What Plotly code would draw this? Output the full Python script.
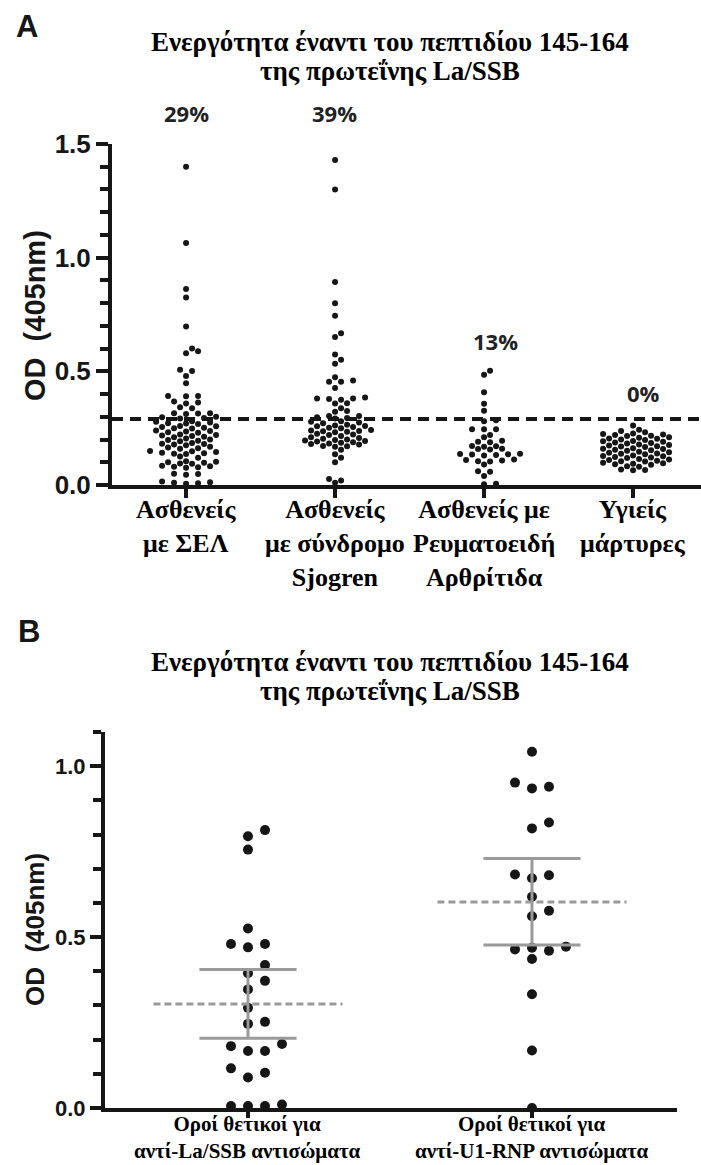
import plotly.graph_objects as go

W, H = 701, 1165

# ---------------- Panel A data ----------------
groups_A = ["Ασθενείς<br>με ΣΕΛ", "Ασθενείς<br>με σύνδρομο<br>Sjogren",
            "Ασθενείς με<br>Ρευματοειδή<br>Αρθρίτιδα", "Υγιείς<br>μάρτυρες"]
pct_A = ["29%", "39%", "13%", "0%"]
cutoff_A = 0.29

sle = [1.40, 1.065, 0.862, 0.825, 0.697, 0.60, 0.588, 0.58, 0.507, 0.502, 0.48, 0.448,
       0.392, 0.392, 0.39, 0.367, 0.363, 0.358, 0.342, 0.338, 0.316, 0.316, 0.314, 0.312,
       0.30, 0.298, 0.295, 0.293,
       0.28, 0.278, 0.275, 0.272, 0.27, 0.268,
       0.26, 0.258, 0.255, 0.252, 0.25, 0.248,
       0.24, 0.238, 0.235, 0.232, 0.23,
       0.222, 0.22, 0.218, 0.215, 0.212, 0.21,
       0.205, 0.20, 0.198, 0.195, 0.192,
       0.185, 0.182, 0.18, 0.178, 0.175,
       0.168, 0.165, 0.162, 0.16,
       0.15, 0.148, 0.145, 0.142, 0.14, 0.138, 0.136,
       0.125, 0.12,
       0.105, 0.102, 0.10, 0.098, 0.095, 0.093,
       0.085, 0.082, 0.08, 0.078, 0.076,
       0.05, 0.048, 0.045,
       0.015, 0.012, 0.01, 0.008, 0.005]
sjogren = [1.43, 1.30, 0.893, 0.80, 0.745, 0.667, 0.651, 0.574, 0.551, 0.533, 0.474, 0.46,
           0.454, 0.454, 0.427, 0.385, 0.38, 0.38, 0.378, 0.375, 0.36, 0.358, 0.338, 0.326,
           0.322, 0.304, 0.304, 0.298, 0.295, 0.293,
           0.28, 0.278, 0.275, 0.272,
           0.265, 0.262, 0.26, 0.258, 0.255, 0.252, 0.25,
           0.242, 0.24, 0.238, 0.236, 0.234, 0.232,
           0.225, 0.222, 0.22,
           0.215, 0.21, 0.207, 0.203, 0.20, 0.198, 0.196, 0.194, 0.191, 0.188, 0.186,
           0.183, 0.18, 0.178,
           0.172, 0.17, 0.168,
           0.155, 0.135, 0.12, 0.10, 0.026, 0.02, 0.01]
ra = [0.503, 0.485, 0.408, 0.357, 0.327, 0.285, 0.28, 0.245, 0.245, 0.245, 0.22, 0.21,
      0.195, 0.19, 0.188, 0.172, 0.17, 0.168, 0.16, 0.158, 0.156, 0.138, 0.136, 0.135,
      0.134, 0.132, 0.13, 0.112, 0.11, 0.108, 0.105, 0.103, 0.09, 0.06, 0.058, 0.04,
      0.005, 0.003]
healthy = [0.262, 0.243, 0.238, 0.232,
           0.226, 0.224, 0.222, 0.22, 0.217, 0.215,
           0.21, 0.208, 0.205, 0.203, 0.2, 0.198,
           0.194, 0.192, 0.19, 0.187, 0.185, 0.183,
           0.178, 0.176, 0.174, 0.171, 0.169, 0.167,
           0.162, 0.16, 0.158, 0.155, 0.153, 0.151,
           0.146, 0.144, 0.142, 0.139, 0.137, 0.135,
           0.13, 0.128, 0.126, 0.123, 0.121, 0.119,
           0.114, 0.112, 0.11, 0.107, 0.105, 0.103,
           0.098, 0.096, 0.094, 0.091, 0.089,
           0.082, 0.08, 0.068, 0.066, 0.065]
values_A = [sle, sjogren, ra, healthy]

# ---------------- Panel B data ----------------
groups_B = ["Οροί θετικοί για<br>αντί-La/SSB αντισώματα",
            "Οροί θετικοί για<br>αντί-U1-RNP αντισώματα"]
anti_la = [0.813, 0.795, 0.756, 0.525, 0.48, 0.48, 0.47, 0.418, 0.394, 0.372, 0.347, 0.293,
           0.252, 0.246, 0.187, 0.181, 0.167, 0.167, 0.116, 0.103, 0.089, 0.01, 0.006,
           0.006, 0.006]
anti_u1 = [1.042, 0.952, 0.940, 0.935, 0.835, 0.818, 0.683, 0.681, 0.672, 0.618, 0.577,
           0.561, 0.472, 0.469, 0.464, 0.460, 0.436, 0.333, 0.168, 0.0]
values_B = [anti_la, anti_u1]
mean_B = [0.304, 0.603]
low_B = [0.204, 0.477]
high_B = [0.405, 0.730]

title_lines = ["Ενεργότητα έναντι του πεπτιδίου 145-164", "της πρωτεΐνης La/SSB"]

# ---------------- geometry (pixels) ----------------
A_left, A_right, A_top, A_bot = 112, 701, 144, 485
B_left, B_right, B_top, B_bot = 105, 677, 732, 1108
A_yr = [0, 1.5]
B_yr = [0, 1.1]
A_xr = [-0.497, 3.456]
B_xr = [-0.5035, 1.5106]

A_pxy = (A_bot - A_top) / (A_yr[1] - A_yr[0])
A_pxx = (A_right - A_left) / (A_xr[1] - A_xr[0])
B_pxy = (B_bot - B_top) / (B_yr[1] - B_yr[0])
B_pxx = (B_right - B_left) / (B_xr[1] - B_xr[0])


def swarm_circle(vals, pxy, pxx, step, dmin, maxk=60):
    """beeswarm layout: nearest-to-centre slot without overlap (circular)"""
    order = sorted(range(len(vals)), key=lambda i: vals[i])
    cands = [0.0]
    for k in range(1, maxk):
        cands += [k * step, -k * step]
    placed = []
    offs = [0.0] * len(vals)
    for i in order:
        y = vals[i] * pxy
        chosen = cands[-1]
        for c in cands:
            if all((c - px) ** 2 + (y - py_) ** 2 >= dmin ** 2 for px, py_ in placed):
                chosen = c
                break
        placed.append((chosen, y))
        offs[i] = chosen / pxx
    return offs


def swarm_rect(vals, pxy, pxx, step, dxmin, dymin, maxk=40):
    order = sorted(range(len(vals)), key=lambda i: vals[i])
    cands = [0.0]
    for k in range(1, maxk):
        cands += [k * step, -k * step]
    placed = []
    offs = [0.0] * len(vals)
    for i in order:
        y = vals[i] * pxy
        chosen = cands[-1]
        for c in cands:
            if all(not (abs(c - px) < dxmin and abs(y - py_) < dymin) for px, py_ in placed):
                chosen = c
                break
        placed.append((chosen, y))
        offs[i] = chosen / pxx
    return offs


fig = go.Figure()

DOT = "#161616"
GRAY = "#9a9a9a"

for gi, vals in enumerate(values_A):
    offs = swarm_circle(vals, A_pxy, A_pxx, 6.0, 6.4)
    fig.add_trace(go.Scatter(
        x=[gi + o for o in offs], y=vals, mode="markers",
        marker=dict(size=6, color=DOT), xaxis="x", yaxis="y",
        cliponaxis=False, showlegend=False, hoverinfo="y"))

for gi, vals in enumerate(values_B):
    offs = swarm_rect(vals, B_pxy, B_pxx, 17.0, 16.0, 10.0)
    fig.add_trace(go.Scatter(
        x=[gi + o for o in offs], y=vals, mode="markers",
        marker=dict(size=10, color=DOT), xaxis="x2", yaxis="y2",
        cliponaxis=False, showlegend=False, hoverinfo="y"))

# mean and error bars (panel B)
for gi in range(len(values_B)):
    fig.add_trace(go.Scatter(
        x=[gi - 0.333, gi + 0.333], y=[mean_B[gi], mean_B[gi]], mode="lines",
        line=dict(color=GRAY, width=3, dash="7px,4px"), xaxis="x2", yaxis="y2",
        showlegend=False, hoverinfo="skip"))
    for yy in (low_B[gi], high_B[gi]):
        fig.add_trace(go.Scatter(
            x=[gi - 0.171, gi + 0.171], y=[yy, yy], mode="lines",
            line=dict(color=GRAY, width=3), xaxis="x2", yaxis="y2",
            showlegend=False, hoverinfo="skip"))
    fig.add_trace(go.Scatter(
        x=[gi, gi], y=[low_B[gi], high_B[gi]], mode="lines",
        line=dict(color=GRAY, width=3), xaxis="x2", yaxis="y2",
        showlegend=False, hoverinfo="skip"))

# cutoff line panel A
fig.add_shape(type="line", xref="x domain", yref="y", x0=0, x1=1,
              y0=cutoff_A, y1=cutoff_A,
              line=dict(color=DOT, width=4, dash="11px,7px"))

AX = "#161616"
sans_b = dict(family="Liberation Sans", weight="bold", color=AX)
serif_b = dict(family="Liberation Serif", weight="bold", color="black")


def py(p):
    return 1 - p / H


fig.update_layout(
    template="none",
    width=W, height=H, margin=dict(l=0, r=0, t=0, b=0, autoexpand=False),
    paper_bgcolor="white", plot_bgcolor="white", showlegend=False,
    xaxis=dict(domain=[A_left / W, A_right / W], range=A_xr, anchor="y", automargin=False,
               showline=True, linewidth=4, linecolor=AX, showgrid=False, zeroline=False,
               tickmode="array", tickvals=list(range(len(groups_A))),
               ticktext=[""] * len(groups_A),
               ticks="outside", ticklen=9, tickwidth=4, tickcolor=AX),
    yaxis=dict(domain=[py(A_bot), py(A_top)], range=A_yr, anchor="x", automargin=False,
               showline=True, linewidth=4, linecolor=AX, showgrid=False, zeroline=False,
               tickmode="linear", tick0=0, dtick=0.5, tickformat=".1f",
               ticks="outside", ticklen=12, tickwidth=4, tickcolor=AX,
               minor=dict(dtick=0.1, tick0=0, ticks="outside", ticklen=8, tickwidth=4,
                          tickcolor=AX, showgrid=False),
               tickfont=dict(size=26, **sans_b)),
    xaxis2=dict(domain=[B_left / W, B_right / W], range=B_xr, anchor="y2", automargin=False,
                showline=True, linewidth=4, linecolor=AX, showgrid=False, zeroline=False,
                tickmode="array", tickvals=list(range(len(groups_B))),
                ticktext=[""] * len(groups_B),
                ticks="outside", ticklen=6, tickwidth=4, tickcolor=AX),
    yaxis2=dict(domain=[py(B_bot), py(B_top)], range=B_yr, anchor="x2", automargin=False,
                showline=True, linewidth=4, linecolor=AX, showgrid=False, zeroline=False,
                tickmode="linear", tick0=0, dtick=0.5, tickformat=".1f",
                ticks="outside", ticklen=11, tickwidth=4, tickcolor=AX,
                minor=dict(dtick=0.1, tick0=0, ticks="outside", ticklen=8, tickwidth=4,
                           tickcolor=AX, showgrid=False),
                tickfont=dict(size=22, **sans_b)),
)

ann = []


def add_text(text, x, y, font, angle=0):
    ann.append(dict(text=text, x=x / W, y=py(y), xref="paper", yref="paper",
                    xanchor="center", yanchor="middle", textangle=angle,
                    showarrow=False, font=font))


add_text("A", 27, 26, dict(size=31, **sans_b))
add_text("B", 29, 632, dict(size=31, **sans_b))
for (y1, y2) in ((42, 71), (662, 691)):
    add_text(title_lines[0], 390, y1, dict(size=27, **serif_b))
    add_text(title_lines[1], 390, y2, dict(size=27, **serif_b))
add_text("OD  (405nm)", 35, 316, dict(size=29, **sans_b), angle=-90)
add_text("OD  (405nm)", 35, 930, dict(size=26, **sans_b), angle=-90)
pct_pos = [(186, 113), (334, 113), (495, 341), (643, 393)]
for t, (px_, py_) in zip(pct_A, pct_pos):
    add_text(t, px_, py_, dict(size=22, family="Open Sans", weight="bold", color="#222"))

# category labels under the axes (anchored at each category on the data axis)
for gi, lab in enumerate(groups_A):
    ann.append(dict(text=lab, x=gi, xref="x", y=py(493), yref="paper",
                    xanchor="center", yanchor="top", showarrow=False,
                    font=dict(size=26, **serif_b)))
for gi, lab in enumerate(groups_B):
    ann.append(dict(text=lab, x=gi, xref="x2", y=py(1110), yref="paper",
                    xanchor="center", yanchor="top", showarrow=False,
                    font=dict(size=21, **serif_b)))
fig.update_layout(annotations=ann)

fig.write_html("out.html")
